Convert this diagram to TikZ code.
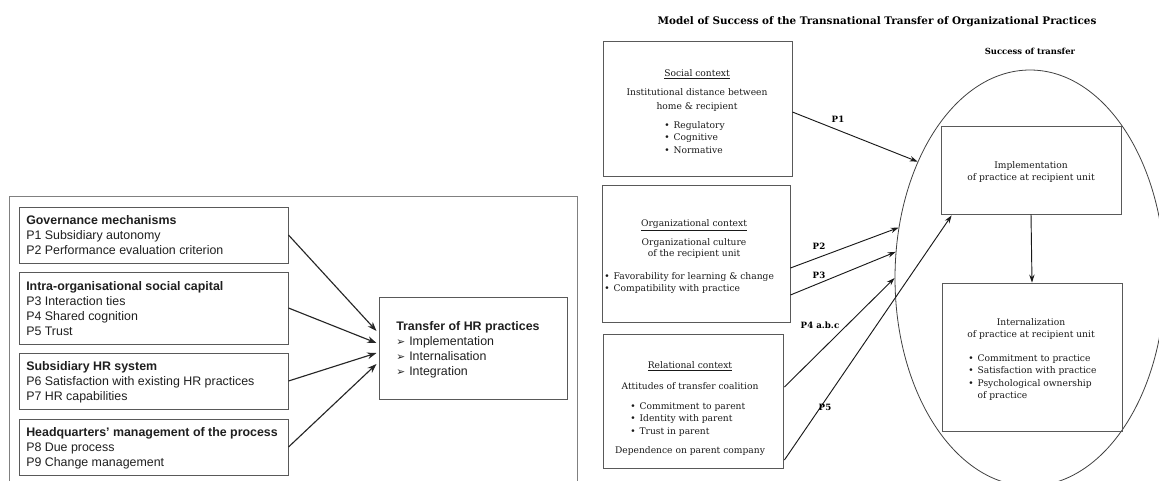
\documentclass[tikz,border=0pt]{standalone}
\usepackage{fontspec}
\setmainfont{Liberation Sans}
\newfontfamily\slab{DejaVu Serif}
\newfontfamily\symfont{DejaVu Sans}
\usetikzlibrary{arrows.meta,calc,fit,shapes.geometric}

% bullet with a fixed gap before the item text
\newcommand\bul{\makebox[7pt][l]{\textbullet}}
\newcommand\hrpoint{\makebox[9.75pt][l]{\symfont\fontsize{8}{9}\selectfont ➢}}

\begin{document}
\begin{tikzpicture}[x=0.75pt,y=-0.75pt,
  frame/.style={draw=black!50,line width=0.7pt,inner sep=0pt},
  hrbox/.style={draw=black!65,line width=0.75pt,inner sep=0pt},
  hrtext/.style={anchor=north west,inner sep=0pt,align=left,text=black!88,
    font=\fontsize{9.3}{11.1}\selectfont},
  hrarrow/.style={draw=black!85,line width=0.85pt,-{Stealth[length=7pt,width=5pt]}},
  ctxbox/.style={draw=black!65,line width=0.6pt,inner sep=0pt},
  ctxtext/.style={inner sep=0pt,text=black!90,font=\slab\fontsize{6.85}{9.2}\selectfont},
  plabel/.style={inner sep=0pt,font=\slab\bfseries\fontsize{6.5}{8}\selectfont},
  parrow/.style={draw=black!90,line width=0.7pt,-{Stealth[length=6pt,width=4pt]}},
]
\useasboundingbox (0,0) rectangle (1159,480);
\clip (0,0) rectangle (1159,480);

% ---------------- HR transfer model ----------------
\node (frame) [frame, fit={(9,196) (577,500)}] {};

\node (gov) [hrbox, fit={(19,207) (288,263)}] {};
\node (cap) [hrbox, fit={(19,272) (288,344)}] {};
\node (hrs) [hrbox, fit={(19,353) (288,409)}] {};
\node (hq)  [hrbox, fit={(19,419) (288,475)}] {};
\node (thr) [hrbox, fit={(379,297) (567,399)}] {};

\node (govt) [hrtext] at (26,215.5) {\textbf{Governance mechanisms}\\P1 Subsidiary autonomy\\P2 Performance evaluation criterion};
\node (capt) [hrtext] at (26,281.5) {\textbf{Intra-organisational social capital}\\P3 Interaction ties\\P4 Shared cognition\\P5 Trust};
\node (hrst) [hrtext] at (26,361.5) {\textbf{Subsidiary HR system}\\P6 Satisfaction with existing HR practices\\P7 HR capabilities};
\node (hqt)  [hrtext] at (26,427.5) {\textbf{Headquarters' management of the process}\\P8 Due process\\P9 Change management};
\node (thrt) [hrtext] at (396,321.5) {\textbf{Transfer of HR practices}\\\hrpoint Implementation\\\hrpoint Internalisation\\\hrpoint Integration};

\draw[hrarrow] (gov.east) -- ($(thr.west)+(-2,-17)$);
\draw[hrarrow] (cap.east) -- ($(thr.west)+(-2,-5)$);
\draw[hrarrow] (hrs.east) -- ($(thr.west)+(-2,5)$);
\draw[hrarrow] (hq.east)  -- ($(thr.west)+(-2,16)$);

% ---------------- Transnational transfer model ----------------
\node (title) [inner sep=0pt,font=\slab\bfseries\fontsize{7.8}{9}\selectfont] at (877,22)
  {Model of Success of the Transnational Transfer of Organizational Practices};
\node (succt) [inner sep=0pt,font=\slab\bfseries\fontsize{6.3}{8}\selectfont] at (1030,51) {Success of transfer};

\node (sctx) [ctxbox, fit={(603,41) (792,176)}] {};
\node (octx) [ctxbox, fit={(602,185) (790,322)}] {};
\node (rctx) [ctxbox, fit={(603,334) (783,468)}] {};

\node (succ) [ellipse, draw=black!75, line width=0.6pt, minimum width=202.5pt,
  minimum height=312pt, inner sep=0pt] at (1030,278) {};
\node (impl) [ctxbox, fit={(941,126) (1121,214)}] {};
\node (intl) [ctxbox, fit={(942,283) (1122,431)}] {};

% social context
\node (s1) [ctxtext, anchor=base] at (697,76) {\underline{Social context}};
\node (s2) [ctxtext, anchor=north, align=center, font=\slab\fontsize{6.85}{10.3}\selectfont] at (697,88.5)
  {Institutional distance between\\home \& recipient};
\node (s3) [ctxtext, anchor=north west, align=left] at (664,121.5) {\bul Regulatory\\\bul Cognitive\\\bul Normative};

% organizational context
\node (o1) [ctxtext, anchor=base] at (694,226) {\underline{Organizational context}};
\node (o2) [ctxtext, anchor=north, align=center, font=\slab\fontsize{6.85}{8.4}\selectfont] at (694,238.5)
  {Organizational culture\\of the recipient unit};
\node (o3) [ctxtext, anchor=north west, align=left] at (604,272.5)
  {\bul Favorability for learning \& change\\\bul Compatibility with practice};

% relational context
\node (r1) [ctxtext, anchor=base] at (690,368) {\underline{Relational context}};
\node (r2) [ctxtext, anchor=base] at (690,389) {Attitudes of transfer coalition};
\node (r3) [ctxtext, anchor=north west, align=left] at (630,402.5)
  {\bul Commitment to parent\\\bul Identity with parent\\\bul Trust in parent};
\node (r4) [ctxtext, anchor=base] at (690,453) {Dependence on parent company};

% success of transfer
\node (i1) [ctxtext, anchor=north, align=center] at (1031,161.5)
  {Implementation\\of practice at recipient unit};
\node (n1) [ctxtext, anchor=north, align=center] at (1031,318.5)
  {Internalization\\of practice at recipient unit};
\node (n2) [ctxtext, anchor=north west, align=left] at (968,354.5)
  {\bul Commitment to practice\\\bul Satisfaction with practice\\\bul Psychological ownership\\\hspace*{7pt}of practice};

% propositions
\draw[parrow] ($(sctx.east)+(0,3.5)$) -- (succ.134);
\draw[parrow] ($(octx.east)+(0,14.5)$) -- (succ.159);
\draw[parrow] ($(octx.east)+(0,41.5)$) -- (succ.169.5);
\draw[parrow] ($(rctx.east)+(1,-14)$) -- (succ.180);
\draw[parrow] ($(rctx.east)+(1,59)$) -- ($(impl.south west)+(11,1)$);
\draw[parrow] (impl.south) -- (intl.north);

\node (p1) [plabel] at (838,119) {P1};
\node (p2) [plabel] at (819,246) {P2};
\node (p3) [plabel] at (819,275) {P3};
\node (p4) [plabel] at (820,325) {P4 a.b.c};
\node (p5) [plabel] at (825,407) {P5};
\end{tikzpicture}
\end{document}
